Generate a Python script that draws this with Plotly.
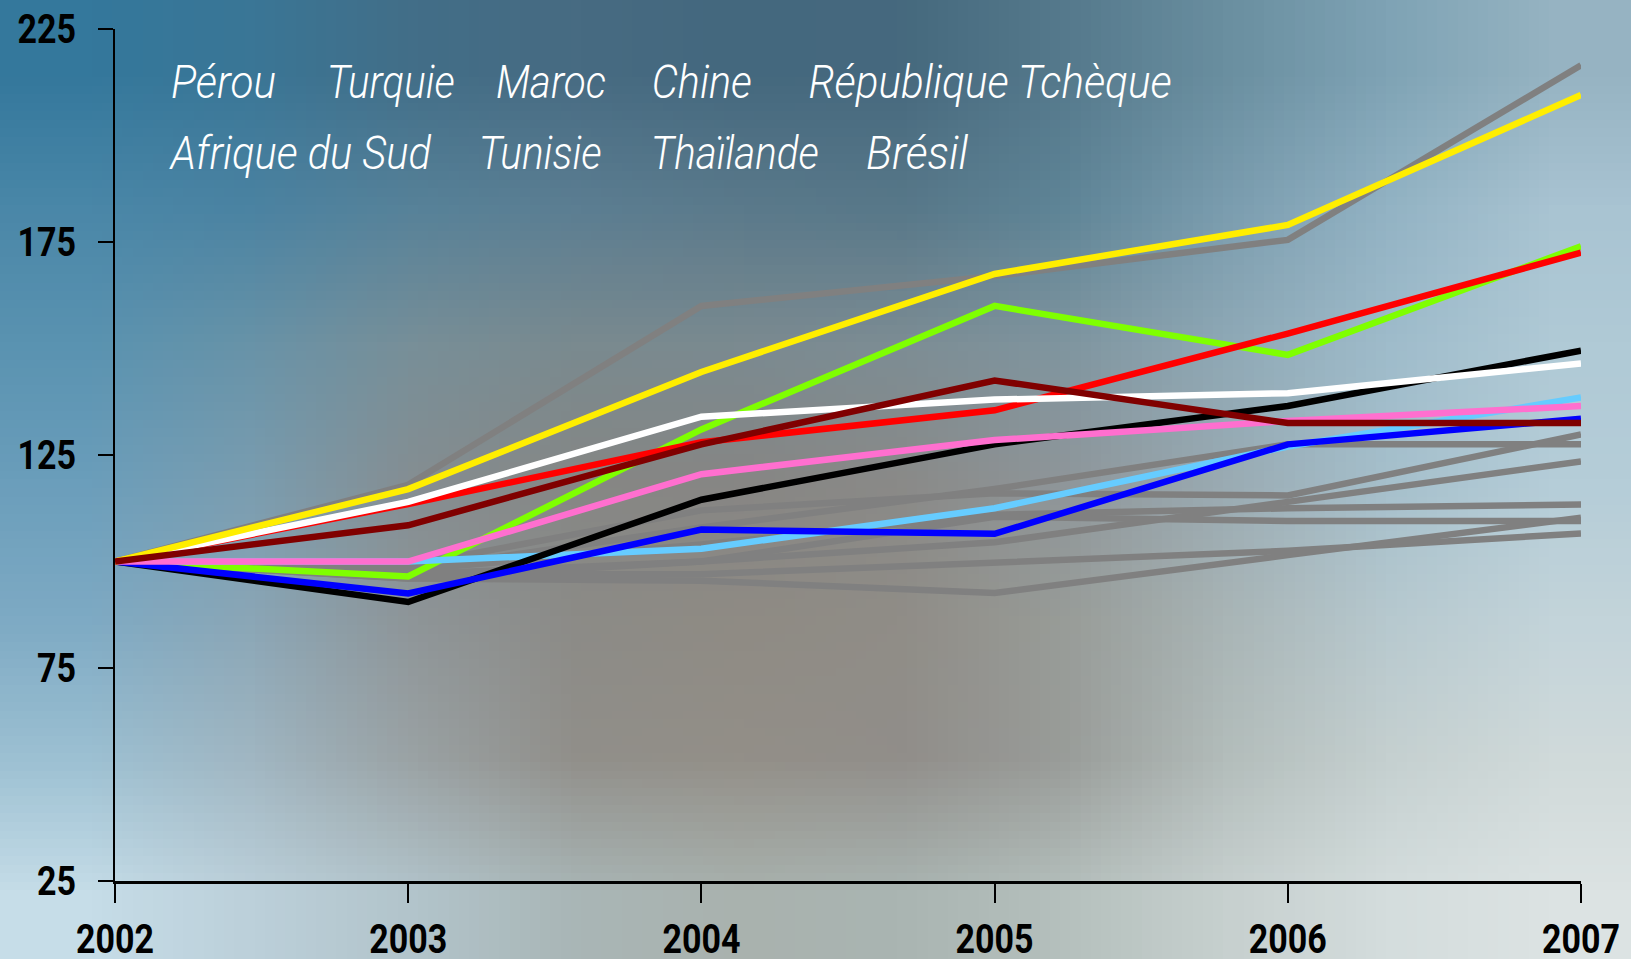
import base64
import json
import struct
import zlib

import numpy as np
import plotly.graph_objects as go

# --- data -----------------------------------------------------------------
years = [2002, 2003, 2004, 2005, 2006, 2007]

countries_row1 = ["Pérou", "Turquie", "Maroc", "Chine", "République Tchèque"]
countries_row2 = ["Afrique du Sud", "Tunisie", "Thaïlande", "Brésil"]

# highlighted series (index 2002 = 100)
yellow_vals = [100, 117, 144.5, 167.5, 179, 209.5]
green_vals = [100, 96.5, 131, 160, 148.5, 174]
red_vals = [100, 113.5, 128, 135.5, 153.5, 172.5]
white_vals = [100, 114, 134, 138, 139.5, 146.5]
black_vals = [100, 90.5, 114.5, 127.5, 136.5, 149.5]
maroon_vals = [100, 108.5, 127.5, 142.5, 132.5, 132.5]
pink_vals = [100, 100, 120.5, 128.5, 133, 136.5]
lightblue_vals = [100, 100, 103, 112.5, 127, 138.5]
blue_vals = [100, 92.5, 107.5, 106.5, 127.5, 133.5]

# other countries (grey)
grey_1 = [100, 118, 160, 167, 175.5, 216.5]
grey_2 = [100, 98, 108, 117, 127.5, 127.5]
grey_3 = [100, 99, 112, 116, 115.5, 129.8]
grey_4 = [100, 97, 100, 104.5, 114, 123.5]
grey_5 = [100, 98, 104, 111, 112.5, 113.4]
grey_6 = [100, 96, 100, 110.5, 109.5, 109.5]
grey_7 = [100, 96, 95.5, 92.6, 101.5, 110.3]
grey_8 = [100, 97, 97, 99.7, 102.5, 106.6]

y_ticks = [25, 75, 125, 175, 225]

# --- layout constants -------------------------------------------------------
W, H = 1631, 959
ML, MR, MT, MB = 115, 50, 29, 78
PW, PH = W - ML - MR, H - MT - MB
FONT = "Roboto, Liberation Sans, sans-serif"


def px_x(px):
    return (px - ML) / PW


def px_y(py):
    return (H - MB - py) / PH


def png_uri(hex_rows):
    """Tiny PNG (stretched later) for the blurred photo-like background."""
    arr = np.array([[[int(c[i:i + 2], 16) for i in (1, 3, 5)] for c in row]
                    for row in hex_rows], dtype=np.uint8)
    h, w, _ = arr.shape
    raw = b"".join(b"\x00" + arr[r].tobytes() for r in range(h))

    def chunk(tag, data):
        body = tag + data
        return struct.pack(">I", len(data)) + body + struct.pack(">I", zlib.crc32(body) & 0xffffffff)

    png = (b"\x89PNG\r\n\x1a\n"
           + chunk(b"IHDR", struct.pack(">IIBBBBB", w, h, 8, 2, 0, 0, 0))
           + chunk(b"IDAT", zlib.compress(raw))
           + chunk(b"IEND", b""))
    return "data:image/png;base64," + base64.b64encode(png).decode()


bg_rows = [
    ["#34789c", "#3a7696", "#426e88", "#476b82", "#44687e", "#46697e", "#55798c", "#6a8fa0", "#7fa3b5", "#96b3c2"],
    ["#4a87a8", "#4b83a2", "#578299", "#5c7e92", "#5b7a8b", "#587889", "#5f8597", "#7b9daf", "#93b3c4", "#a9c4d2"],
    ["#5a93b1", "#6893a8", "#788f98", "#7a8a8f", "#7b8a90", "#7d8d94", "#80959f", "#8fa9b6", "#9fbccb", "#b0cad6"],
    ["#6b9ebb", "#7a9db0", "#858e92", "#868785", "#878684", "#8a8a88", "#8f969a", "#9aabb3", "#a6c0cc", "#b5cdd8"],
    ["#7eaac4", "#8aa6b6", "#8e9598", "#8c8b87", "#8f8b84", "#908d87", "#989c98", "#a9b5b6", "#b7c9cf", "#c3d4da"],
    ["#9cc0d2", "#a0b6c2", "#9aa2a4", "#918f8a", "#938f88", "#918e8a", "#999c99", "#b3bdbb", "#c5d0d0", "#d0dada"],
    ["#c6dde8", "#bcd0da", "#b2c4cb", "#a9b6b6", "#a9b2ae", "#aab5b2", "#b5c0bd", "#c7d0cf", "#d4dddd", "#dce3e3"],
]

fig = go.Figure()

for g in [grey_1, grey_2, grey_3, grey_4, grey_5, grey_6, grey_7, grey_8]:
    fig.add_trace(go.Scatter(x=years, y=g, mode="lines", name="Autres",
                             line=dict(color="#808080", width=6.5)))

# bottom -> top drawing order
highlighted = [
    (green_vals, "#7fff00"),
    (lightblue_vals, "#66ccff"),
    (black_vals, "#000000"),
    (blue_vals, "#0000ff"),
    (pink_vals, "#ff6fcf"),
    (red_vals, "#ff0000"),
    (white_vals, "#ffffff"),
    (yellow_vals, "#ffee00"),
    (maroon_vals, "#800000"),
]
names = countries_row1 + countries_row2
for (vals, color), name in zip(highlighted, names):
    fig.add_trace(go.Scatter(x=years, y=vals, mode="lines", name=name,
                             line=dict(color=color, width=6.5)))

# country names written at the top of the plot (centre x, target width in px)
row1_cx = [223, 390, 551, 702, 990]
row1_w = [105, 128, 110, 100, 363]
row2_cx = [300, 540, 735, 917]
row2_w = [260, 123, 168, 102]
text_widths = {}
for names_row, cxs, ws, py in [(countries_row1, row1_cx, row1_w, 82),
                               (countries_row2, row2_cx, row2_w, 152)]:
    for name, cx, w in zip(names_row, cxs, ws):
        text_widths[name] = w
        fig.add_annotation(
            text=name, x=px_x(cx), y=px_y(py), xref="paper", yref="paper",
            xanchor="center", yanchor="middle", showarrow=False,
            font=dict(family=FONT, size=47, color="white", style="italic", weight=300),
        )

fig.add_layout_image(
    source=png_uri(bg_rows), xref="paper", yref="paper",
    x=-ML / PW, y=1 + MT / PH, sizex=W / PW, sizey=H / PH,
    xanchor="left", yanchor="top", sizing="stretch", layer="below",
)

fig.update_layout(
    width=W, height=H,
    margin=dict(l=ML, r=MR, t=MT, b=MB),
    paper_bgcolor="rgba(0,0,0,0)",
    plot_bgcolor="rgba(0,0,0,0)",
    showlegend=False,
    font=dict(family=FONT, color="black"),
)
fig.update_xaxes(
    range=[2002, 2007], tickvals=years, ticktext=[str(y) for y in years],
    showgrid=False, zeroline=False, showline=True, linecolor="black", linewidth=3,
    ticks="outside", ticklen=19, tickwidth=2, tickcolor="black",
    tickfont=dict(family=FONT, size=40, color="black", weight="bold"),
    ticklabelstandoff=2, automargin=False, ticklabeloverflow="allow",
)
fig.update_yaxes(
    range=[25, 225], tickvals=y_ticks,
    showgrid=False, zeroline=False, showline=True, linecolor="black", linewidth=2,
    ticks="outside", ticklen=15, tickwidth=2, tickcolor="black",
    tickfont=dict(family=FONT, size=40, color="black", weight="bold"),
    ticklabelstandoff=14, automargin=False, ticklabeloverflow="allow",
)

# condensed look: squeeze the glyphs of the texts (no narrow font installed)
post = """
document.body.style.margin='0';document.body.style.overflow='hidden';
var gd=document.querySelector('.plotly-graph-div');
var TW=%s;
gd.querySelectorAll('text.annotation-text').forEach(function(t){
  var w=TW[t.textContent]; if(w){t.setAttribute('textLength',w);t.setAttribute('lengthAdjust','spacingAndGlyphs');}
});
gd.querySelectorAll('g.xtick text, g.ytick text').forEach(function(t){
  t.setAttribute('textLength',t.getComputedTextLength()*0.85);t.setAttribute('lengthAdjust','spacingAndGlyphs');
});
""" % json.dumps(text_widths)

fig.write_html("out.html", config={"displayModeBar": False}, post_script=post)
